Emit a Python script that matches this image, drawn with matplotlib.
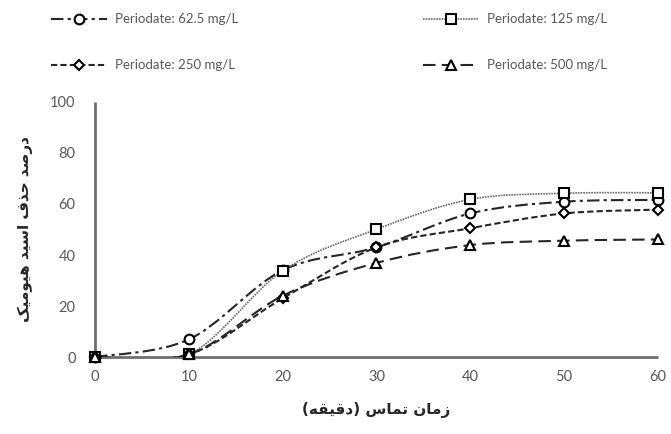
import matplotlib
matplotlib.use("Agg")
import matplotlib.pyplot as plt
from matplotlib.lines import Line2D
from matplotlib.path import Path
from matplotlib.patches import PathPatch
import numpy as np

# data
time_min = [0, 10, 20, 30, 40, 50, 60]
removal_62_5 = [0, 6.9, 34, 43, 56.3, 60.9, 61.6]
removal_125 = [0, 1, 33.8, 50.1, 61.8, 64.2, 64.4]
removal_250 = [0, 1, 23, 43, 50.5, 56.3, 57.8]
removal_500 = [0, 1, 24, 36.9, 43.9, 45.6, 46.1]
series_labels = ["Periodate: 62.5 mg/L", "Periodate: 125 mg/L",
                 "Periodate: 250 mg/L", "Periodate: 500 mg/L"]

x_label_fa = "زمان تماس (دقیقه)"
y_label_fa = "درصد حذف اسید هیومیک"

# simple Persian shaping (presentation forms) since matplotlib has no shaper
FORMS = {
    "ا": ("\uFE8D", "\uFE8E", None, None),
    "ت": ("\uFE95", "\uFE96", "\uFE97", "\uFE98"),
    "ح": ("\uFEA1", "\uFEA2", "\uFEA3", "\uFEA4"),
    "د": ("\uFEA9", "\uFEAA", None, None),
    "ذ": ("\uFEAB", "\uFEAC", None, None),
    "ر": ("\uFEAD", "\uFEAE", None, None),
    "ز": ("\uFEAF", "\uFEB0", None, None),
    "س": ("\uFEB1", "\uFEB2", "\uFEB3", "\uFEB4"),
    "ص": ("\uFEB9", "\uFEBA", "\uFEBB", "\uFEBC"),
    "ف": ("\uFED1", "\uFED2", "\uFED3", "\uFED4"),
    "ق": ("\uFED5", "\uFED6", "\uFED7", "\uFED8"),
    "ک": ("\uFB8E", "\uFB8F", "\uFB90", "\uFB91"),
    "م": ("\uFEE1", "\uFEE2", "\uFEE3", "\uFEE4"),
    "ن": ("\uFEE5", "\uFEE6", "\uFEE7", "\uFEE8"),
    "ه": ("\uFEE9", "\uFEEA", "\uFEEB", "\uFEEC"),
    "و": ("\uFEED", "\uFEEE", None, None),
    "ی": ("\uFBFC", "\uFBFD", "\uFBFE", "\uFBFF"),
}
MIRROR = {"(": ")", ")": "("}


def shape_fa(text):
    out = []
    for i, ch in enumerate(text):
        if ch not in FORMS:
            out.append(ch)
            continue
        prev = text[i - 1] if i > 0 else ""
        nxt = text[i + 1] if i + 1 < len(text) else ""
        join_prev = prev in FORMS and FORMS[prev][2] is not None
        join_next = nxt in FORMS and FORMS[ch][2] is not None
        iso, fin, ini, med = FORMS[ch]
        if join_prev and join_next:
            out.append(med)
        elif join_next:
            out.append(ini)
        elif join_prev:
            out.append(fin)
        else:
            out.append(iso)
    return "".join(MIRROR.get(c, c) for c in reversed(out))


def smooth_path(x, y):
    # Catmull-Rom style bezier through the points (like Excel smoothed lines)
    pts = np.column_stack([x, y]).astype(float)
    n = len(pts)
    verts = [pts[0]]
    codes = [Path.MOVETO]
    for i in range(n - 1):
        p0 = pts[i - 1] if i > 0 else pts[i]
        p1 = pts[i]
        p2 = pts[i + 1]
        p3 = pts[i + 2] if i + 2 < n else pts[i + 1]
        c1 = p1 + (p2 - p0) / 6.0
        c2 = p2 - (p3 - p1) / 6.0
        verts += [c1, c2, p2]
        codes += [Path.CURVE4] * 3
    return Path(verts, codes)


plt.rcParams["font.family"] = ["Lato", "DejaVu Sans"]

fig = plt.figure(figsize=(6.71, 4.34), dpi=100)
ax = fig.add_axes([0.1416, 0.1774, 0.839, 0.5876])

styles = [
    dict(color="#262626", ls=(0, (6, 2, 1.5, 2)), lw=1.5, marker="o"),
    dict(color="#6b6b6b", ls=(0, (1, 0.6)), lw=1.2, marker="s"),
    dict(color="#262626", ls=(0, (3, 1.5)), lw=1.5, marker="D"),
    dict(color="#262626", ls=(0, (6, 3)), lw=1.5, marker="^"),
]
all_series = [removal_62_5, removal_125, removal_250, removal_500]
msizes = {"o": 7, "s": 7.5, "D": 5.5, "^": 7}

handles = []
for vals, st, lab in zip(all_series, styles, series_labels):
    patch = PathPatch(smooth_path(time_min, vals), facecolor="none",
                      edgecolor=st["color"], linestyle=st["ls"], lw=st["lw"],
                      zorder=2)
    ax.add_patch(patch)
    ax.plot(time_min, vals, ls="none", marker=st["marker"],
            ms=msizes[st["marker"]], mfc="white", mec="black", mew=1.5,
            zorder=3, clip_on=False)
    handles.append(Line2D([], [], color=st["color"], ls=st["ls"], lw=st["lw"],
                          marker=st["marker"], ms=msizes[st["marker"]],
                          mfc="white", mec="black", mew=1.5, label=lab))

ax.set_xlim(0, 60)
ax.set_ylim(0, 100)
ax.set_xticks(range(0, 61, 10))
ax.set_yticks(range(0, 101, 20))
ax.tick_params(length=0, labelsize=10.5, colors="#595959")
ax.tick_params(axis="y", pad=14)
ax.tick_params(axis="x", pad=9)
for s in ["top", "right"]:
    ax.spines[s].set_visible(False)
for s in ["left", "bottom"]:
    ax.spines[s].set_color("#6e6e6e")
    ax.spines[s].set_linewidth(2)
    ax.spines[s].set_zorder(1)
    ax.spines[s].set_capstyle("butt")

ax.set_xlabel(shape_fa(x_label_fa), family="DejaVu Sans", fontweight="bold",
              fontsize=11, color="#262626", labelpad=13)
ax.set_ylabel(shape_fa(y_label_fa), family="DejaVu Sans", fontweight="bold",
              fontsize=11, color="#262626", labelpad=12)

# row order in the reference: 62.5 | 125 on top, 250 | 500 below
leg_order = [0, 2, 1, 3]
leg = fig.legend(handles=[handles[i] for i in leg_order], loc="upper left",
                 ncol=2, bbox_to_anchor=(0.058, 0.997), frameon=False,
                 fontsize=9.5, handlelength=4.25, handletextpad=0.6,
                 columnspacing=14.0, labelspacing=2.6)
for t in leg.get_texts():
    t.set_color("#595959")

fig.savefig("out.png", dpi=100)
